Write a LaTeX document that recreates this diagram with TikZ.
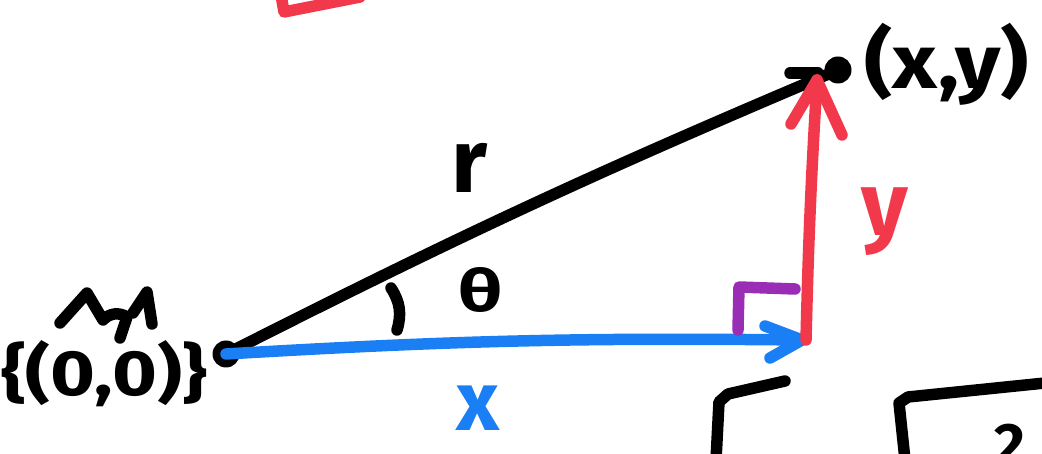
\documentclass[tikz,border=0pt]{standalone}
\usepackage{fontspec}
\setmainfont{Fira Sans}
\definecolor{penred}{HTML}{F2394B}
\definecolor{penblue}{HTML}{1A7EF5}
\definecolor{penpurple}{HTML}{9A2DB5}
\begin{document}
\begin{tikzpicture}[x=1pt,y=-1pt,
  pen/.style={line width=11.5pt,line cap=round,line join=round},
  dot/.style={circle,fill=black,inner sep=0pt,minimum size=27pt},
  hand/.style={font=\bfseries, inner sep=0pt}]
\useasboundingbox (0,0) rectangle (1042,454);
\clip (0,0) rectangle (1042,454);
% points
\node[dot] (O) at (226,354) {};
\node[dot] (P) at (838,70) {};
\coordinate (rtip) at (817,80);
\coordinate (rbase) at (806,340);
\coordinate (btip) at (802,340);
% r (black)
\draw[pen] (O.center) to[bend left=2] (P.center);
\draw[pen] (790,73) -- (818,73);
% x (blue)
\draw[pen,penblue] (O.center) to[bend left=2] (btip);
\draw[pen,penblue] (765,326) -- (btip) -- (770,358);
% y (red)
\draw[pen,penred] (rbase) to[bend left=1] (rtip);
\draw[pen,penred] (791,124) -- (rtip) -- (842,135);
% right angle mark
\draw[pen,penpurple] (738,330) -- (739,287) -- (795,289);
% angle mark
\draw[pen] (391,288) to[bend left=25] (397,330);
% labels
\node[hand,font=\fontsize{90}{90}\bfseries\selectfont] (rl) at (470,168) {r};
\node[hand,font=\fontsize{58}{58}\bfseries\selectfont,xscale=1.35] (th) at (481,290) {θ};
\node[hand,font=\fontsize{90}{90}\bfseries\selectfont,text=penred] (yl) at (885,222) {y};
\node[hand,font=\fontsize{84}{84}\bfseries\selectfont,text=penblue] (xl) at (478,408) {x};
\node[hand,font=\fontsize{76}{76}\bfseries\selectfont,anchor=west,xscale=1.15] (xy) at (864,64) {(x,y)};
\node[hand,font=\fontsize{64}{64}\bfseries\selectfont,xscale=1.2] (o0) at (104,374) {\{(0,0)\}};
% scribble above origin label
\draw[pen] (60,323) -- (87,293) -- (103,320) to[bend left=40] (127,317) -- (120,338);
\draw[pen] (133,313) -- (147,292) -- (152,324);
% partial red box at top
\draw[pen,penred] (281,-5) -- (284,12) -- (360,-3);
% bottom right shapes
\draw[pen] (716,460) -- (719,402) -- (728,394) -- (785,381);
\draw[pen] (905,460) -- (899,403) -- (908,397) -- (1045,383);
\node[hand,font=\fontsize{60}{60}\bfseries\selectfont,anchor=north] (two) at (1010,424) {2};
\end{tikzpicture}
\end{document}
